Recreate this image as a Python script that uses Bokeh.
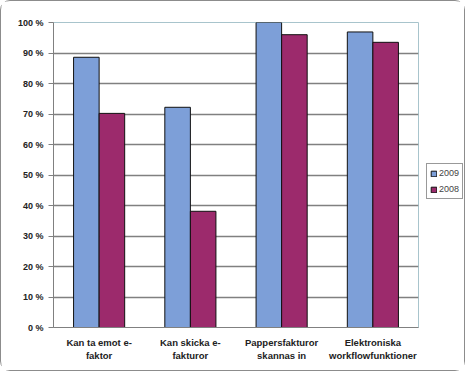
from bokeh.plotting import figure
from bokeh.layouts import row
from bokeh.models import ColumnDataSource, FactorRange, Legend, LegendItem, FixedTicker, CustomJSTickFormatter
from bokeh.transform import dodge
from bokeh.embed import file_html
from bokeh.resources import INLINE

categories = ["Kan ta emot e-\nfaktor", "Kan skicka e-\nfakturor", "Pappersfakturor\nskannas in", "Elektroniska\nworkflowfunktioner"]
series_2009 = [88.6, 72.2, 100.0, 96.9]
series_2008 = [70.2, 38.1, 96.0, 93.5]
series_names = ["2009", "2008"]
y_ticks = [0, 10, 20, 30, 40, 50, 60, 70, 80, 90, 100]

blue = "#7d9fd8"
purple = "#9c2a6c"

src = ColumnDataSource(dict(cat=categories, v09=series_2009, v08=series_2008))

p = figure(width=419, height=369, x_range=FactorRange(*categories, range_padding=0),
           y_range=(0, 100), output_backend="svg", toolbar_location=None,
           min_border_left=52, min_border_top=21, min_border_bottom=43, min_border_right=2)

p.vbar(x=dodge("cat", -0.14, range=p.x_range), top="v09", width=0.28, source=src,
       fill_color=blue, line_color="#111111", line_width=1)
p.vbar(x=dodge("cat", 0.14, range=p.x_range), top="v08", width=0.28, source=src,
       fill_color=purple, line_color="#111111", line_width=1)

p.yaxis.ticker = FixedTicker(ticks=y_ticks)
p.yaxis.formatter = CustomJSTickFormatter(code="return tick + ' %';")
p.yaxis.major_label_text_font = "Liberation Sans"
p.yaxis.major_label_text_font_style = "bold"
p.yaxis.major_label_text_font_size = "9px"
p.yaxis.major_label_text_color = "#222222"
p.yaxis.axis_line_color = "#808080"
p.yaxis.major_tick_line_color = "#808080"
p.yaxis.major_tick_out = 5
p.yaxis.major_tick_in = 0
p.yaxis.minor_tick_line_color = None

p.xaxis.major_label_text_font = "Liberation Sans"
p.xaxis.major_label_text_font_style = "bold"
p.xaxis.major_label_text_font_size = "9.5px"
p.xaxis.major_label_text_color = "#222222"
p.xaxis.axis_line_color = "#808080"
p.xaxis.major_tick_line_color = None
p.xaxis.major_label_standoff = 3

p.xgrid.grid_line_color = None
p.ygrid.ticker = FixedTicker(ticks=y_ticks)
p.ygrid.grid_line_color = "#808080"
p.ygrid.grid_line_width = 1.3

p.outline_line_color = "#a8c4cc"
p.outline_line_width = 1
p.background_fill_color = "white"
p.border_fill_color = "white"

# legend panel (renderers hidden; only their legend swatches are shown)
p2 = figure(width=44, height=369, x_range=(0, 1), y_range=(0, 1), output_backend="svg",
            toolbar_location=None, min_border=0, x_axis_location=None, y_axis_location=None)
p2.grid.visible = False
p2.outline_line_color = None
p2.background_fill_color = "white"
p2.border_fill_color = "white"
g1 = p2.vbar(x="v09", top="v09", width=0.1, source=src, fill_color=blue,
             line_color="#111111", line_width=1, visible=False)
g2 = p2.vbar(x="v08", top="v08", width=0.1, source=src, fill_color=purple,
             line_color="#111111", line_width=1, visible=False)
legend = Legend(items=[LegendItem(label=series_names[0], renderers=[g1]),
                       LegendItem(label=series_names[1], renderers=[g2])],
                location=(6, 128), margin=0, padding=3, spacing=4,
                glyph_width=7, glyph_height=7, label_standoff=2,
                label_text_font="Liberation Sans", label_text_font_size="9px",
                label_height=12, label_width=16,
                inactive_fill_alpha=0,
                border_line_color="#333333", border_line_width=1)
p2.add_layout(legend)

layout = row(p, p2, spacing=0)
layout.styles = {"border": "1.5px solid #8c8c8c", "border-radius": "10px"}

open("out.html", "w").write(file_html(layout, INLINE))
